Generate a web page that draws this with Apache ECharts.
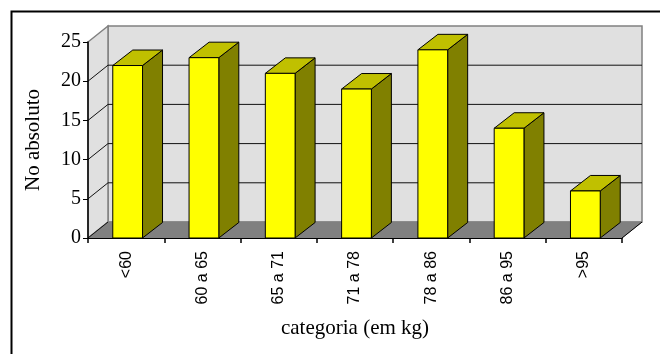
<!DOCTYPE html>
<html>
<head>
<meta charset="utf-8">
<script src="https://cdn.jsdelivr.net/npm/echarts@6/dist/echarts.min.js"></script>
<style>
  html, body { margin: 0; padding: 0; background: #fff; }
  #chart { width: 660px; height: 354px; }
</style>
</head>
<body>
<div id="chart"></div>
<script>
// Weight classes and absolute counts
const categories = ['<60', '60 a 65', '65 a 71', '71 a 78', '78 a 86', '86 a 95', '>95'];
const counts = [22, 23, 21, 19, 24, 14, 6];
const yTicks = [0, 5, 10, 15, 20, 25];

// Oblique depth of the walls and of each column (pixels)
const WALL_DX = 20, WALL_DY = -16;
const BAR_DX = 20, BAR_DY = -15.5;

const chart = echarts.init(document.getElementById('chart'), null, { renderer: 'canvas' });

function renderWalls(params, api) {
  const cs = params.coordSys;
  const x0 = cs.x, y0 = cs.y, right = cs.x + cs.width, bottom = cs.y + cs.height;
  const children = [];
  // back wall
  children.push({
    type: 'polygon',
    shape: { points: [[x0 + WALL_DX, y0 + WALL_DY], [right + WALL_DX, y0 + WALL_DY],
                      [right + WALL_DX, bottom + WALL_DY], [x0 + WALL_DX, bottom + WALL_DY]] },
    style: { fill: '#e0e0e0', stroke: '#808080', lineWidth: 1.5 }
  });
  // side wall
  children.push({
    type: 'polygon',
    shape: { points: [[x0, bottom], [x0, y0], [x0 + WALL_DX, y0 + WALL_DY], [x0 + WALL_DX, bottom + WALL_DY]] },
    style: { fill: '#e0e0e0', stroke: '#808080', lineWidth: 1.5 }
  });
  // floor
  children.push({
    type: 'polygon',
    shape: { points: [[x0, bottom], [right, bottom], [right + WALL_DX, bottom + WALL_DY], [x0 + WALL_DX, bottom + WALL_DY]] },
    style: { fill: '#808080', stroke: '#808080', lineWidth: 1 }
  });
  // grid lines across side and back walls
  yTicks.forEach(function (v) {
    if (v === yTicks[yTicks.length - 1]) return;
    const y = api.coord([0, v])[1];
    children.push({
      type: 'polyline',
      shape: { points: v === 0
        ? [[x0, y], [x0 + WALL_DX, y + WALL_DY]]
        : [[x0, y], [x0 + WALL_DX, y + WALL_DY], [right + WALL_DX, y + WALL_DY]] },
      style: { stroke: '#111', lineWidth: 1, fill: null }
    });
  });
  // right edge of the floor
  children.push({
    type: 'line',
    shape: { x1: right, y1: bottom, x2: right + WALL_DX, y2: bottom + WALL_DY },
    style: { stroke: '#000', lineWidth: 1 }
  });
  return { type: 'group', children: children };
}

function renderColumn(params, api) {
  const idx = api.value(0);
  const val = api.value(1);
  const top = api.coord([idx, val]);
  const base = api.coord([idx, 0]);
  const catW = api.size([1, 0])[0];
  const bw = catW * 0.39;
  const cx = top[0] + 1.5;
  const x1 = cx - bw / 2, x2 = cx + bw / 2;
  const yt = top[1], yb = base[1];
  const edge = { stroke: '#000', lineWidth: 1 };
  return {
    type: 'group',
    children: [
      { type: 'polygon',
        shape: { points: [[x2, yt], [x2 + BAR_DX, yt + BAR_DY], [x2 + BAR_DX, yb + BAR_DY], [x2, yb]] },
        style: Object.assign({ fill: '#808000' }, edge) },
      { type: 'polygon',
        shape: { points: [[x1, yt], [x1 + BAR_DX, yt + BAR_DY], [x2 + BAR_DX, yt + BAR_DY], [x2, yt]] },
        style: Object.assign({ fill: '#c0c000' }, edge) },
      { type: 'rect',
        shape: { x: x1, y: yt, width: bw, height: yb - yt },
        style: Object.assign({ fill: '#ffff00' }, edge) }
    ]
  };
}

chart.setOption({
  animation: false,
  backgroundColor: '#ffffff',
  graphic: [{
    type: 'rect',
    left: 9, top: 9,
    shape: { x: 0, y: 0, width: 700, height: 400 },
    style: { fill: null, stroke: '#000', lineWidth: 2 },
    z: 100
  }],
  grid: { left: 88, right: 38, top: 42, bottom: 116, containLabel: false },
  xAxis: {
    type: 'category',
    data: categories,
    z: 10,
    axisLine: { show: true, lineStyle: { color: '#000', width: 1 } },
    axisTick: { show: true, length: 5, interval: 0, lineStyle: { color: '#000', width: 1.5 } },
    axisLabel: { interval: 0, rotate: 90, margin: 13, color: '#000',
                 fontFamily: 'Liberation Sans', fontSize: 16 },
    splitLine: { show: false },
    name: 'categoria (em kg)',
    nameLocation: 'middle',
    nameGap: 80,
    nameTextStyle: { color: '#000', fontFamily: 'Liberation Serif', fontSize: 21 }
  },
  yAxis: {
    type: 'value',
    min: 0, max: 25, interval: 5,
    z: 10,
    axisLine: { show: true, lineStyle: { color: '#000', width: 1.5 } },
    axisTick: { show: true, length: 5, lineStyle: { color: '#000', width: 1 } },
    axisLabel: { margin: 7, color: '#000', fontFamily: 'Liberation Serif', fontSize: 20 },
    splitLine: { show: false },
    name: 'No absoluto',
    nameLocation: 'middle',
    nameGap: 44,
    nameTextStyle: { color: '#000', fontFamily: 'Liberation Serif', fontSize: 21 }
  },
  series: [
    {
      type: 'custom',
      name: 'walls',
      renderItem: renderWalls,
      data: [[0, 0]],
      encode: { x: 0, y: 1 },
      clip: false,
      silent: true,
      z: 1
    },
    {
      type: 'custom',
      name: 'No absoluto',
      renderItem: renderColumn,
      data: counts.map(function (v, i) { return [i, v]; }),
      encode: { x: 0, y: 1 },
      clip: false,
      z: 2
    }
  ]
});
</script>
</body>
</html>
